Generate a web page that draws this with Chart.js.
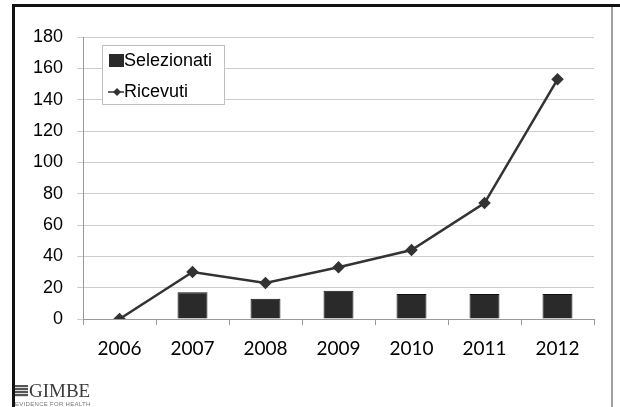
<!DOCTYPE html>
<html>
<head>
<meta charset="utf-8">
<script src="https://cdn.jsdelivr.net/npm/chart.js@4.4.1/dist/chart.umd.min.js"></script>
<style>
  html, body { margin: 0; padding: 0; background: #fff; }
  #wrap { position: relative; width: 620px; height: 407px; overflow: hidden; }
  #frameTop { position: absolute; left: 12px; top: 4px; width: 608px; height: 3px; background: #111; }
  #frameLeft { position: absolute; left: 12px; top: 4px; width: 3px; height: 403px; background: #111; }
  #frameRight { position: absolute; left: 611px; top: 7px; width: 2px; height: 400px; background: #a0a0a0; }
  #logo { position: absolute; left: 15px; top: 381px; font-family: "Liberation Serif", serif; color: #3c3c3c; }
  #logo .name { font-size: 19px; line-height: 19px; white-space: nowrap; }
  #logo .ico { display: inline-block; width: 13px; height: 12px; margin-right: 1px;
    background: repeating-linear-gradient(#555 0 2px, #ddd 2px 3px); vertical-align: 0px; }
  #logo .sub { font-family: "Liberation Sans", sans-serif; font-size: 6px; letter-spacing: 0.3px;
    color: #777; line-height: 7px; margin-top: 1px; white-space: nowrap; }
  canvas { position: absolute; left: 0; top: 0; }
</style>
</head>
<body>
<div id="wrap">
  <canvas id="chart" width="620" height="407"></canvas>
  <div id="frameTop"></div>
  <div id="frameLeft"></div>
  <div id="frameRight"></div>
  <div id="logo"><div class="name"><span class="ico"></span>GIMBE</div><div class="sub">EVIDENCE FOR HEALTH</div></div>
</div>
<script>
// values
const years = ['2006', '2007', '2008', '2009', '2010', '2011', '2012']
const selezionati = [null, 17, 13, 18, 16, 16, 16]
const ricevuti = [0, 30, 23, 33, 44, 74, 153]
const yTicks = [0, 20, 40, 60, 80, 100, 120, 140, 160, 180]

const barColor = '#2a2a2a'
const lineColor = '#333'

// legend box drawn inside the plot, top left
const boxLegend = {
  id: 'boxLegend',
  afterDraw(chart) {
    const ctx = chart.ctx
    const x = 102, y = 45, w = 122, h = 59
    const ds = chart.data.datasets
    ctx.save()
    ctx.fillStyle = '#fff'
    ctx.fillRect(x, y, w, h)
    ctx.strokeStyle = '#c0c0c0'
    ctx.lineWidth = 1
    ctx.strokeRect(x + 0.5, y + 0.5, w, h)
    ctx.font = '18px "Liberation Sans", Arial, sans-serif'
    ctx.textBaseline = 'middle'
    // Selezionati (bar)
    ctx.fillStyle = barColor
    ctx.fillRect(109, 54, 15, 13)
    ctx.fillStyle = '#000'
    ctx.fillText(ds[0].label, 124, 61)
    // Ricevuti (line)
    ctx.strokeStyle = lineColor
    ctx.lineWidth = 1.5
    ctx.beginPath()
    ctx.moveTo(108, 92)
    ctx.lineTo(124, 92)
    ctx.stroke()
    ctx.fillStyle = '#333'
    ctx.beginPath()
    ctx.moveTo(117, 88); ctx.lineTo(121, 92); ctx.lineTo(117, 96); ctx.lineTo(113, 92)
    ctx.closePath()
    ctx.fill()
    ctx.fillStyle = '#000'
    ctx.fillText(ds[1].label, 124, 92)
    ctx.restore()
  }
}

const ctx = document.getElementById('chart').getContext('2d')
new Chart(ctx, {
  type: 'bar',
  data: {
    labels: years,
    datasets: [
      {
        type: 'bar',
        label: 'Selezionati',
        data: selezionati,
        backgroundColor: barColor,
        borderColor: '#111',
        borderWidth: 1,
        barPercentage: 0.82,
        categoryPercentage: 0.5,
        order: 2
      },
      {
        type: 'line',
        label: 'Ricevuti',
        data: ricevuti,
        borderColor: lineColor,
        borderWidth: 2.5,
        pointStyle: 'rectRot',
        pointRadius: 4.5,
        pointBackgroundColor: '#333',
        pointBorderColor: '#333',
        tension: 0,
        order: 1
      }
    ]
  },
  options: {
    responsive: false,
    animation: false,
    devicePixelRatio: 1,
    layout: { padding: { left: 0, top: 37, right: 26, bottom: 0 } },
    plugins: {
      legend: { display: false },
      tooltip: { enabled: false }
    },
    scales: {
      x: {
        offset: true,
        afterFit: s => { s.height = 88 },
        grid: { offset: true, drawOnChartArea: false, drawTicks: true, tickLength: 6, color: '#999' },
        border: { color: '#999', width: 1 },
        ticks: { color: '#000', padding: 12, font: { family: 'Lato, "Open Sans", sans-serif', size: 19 } }
      },
      y: {
        min: 0,
        max: 180,
        afterFit: s => { s.width = 83 },
        afterBuildTicks: s => { s.ticks = yTicks.map(v => ({ value: v })) },
        grid: { color: '#cdcdcd', tickLength: 6 },
        border: { color: '#999', width: 1 },
        ticks: { color: '#000', padding: 14, font: { family: '"Liberation Sans", Arial, sans-serif', size: 18 } }
      }
    }
  },
  plugins: [boxLegend]
})
</script>
</body>
</html>
